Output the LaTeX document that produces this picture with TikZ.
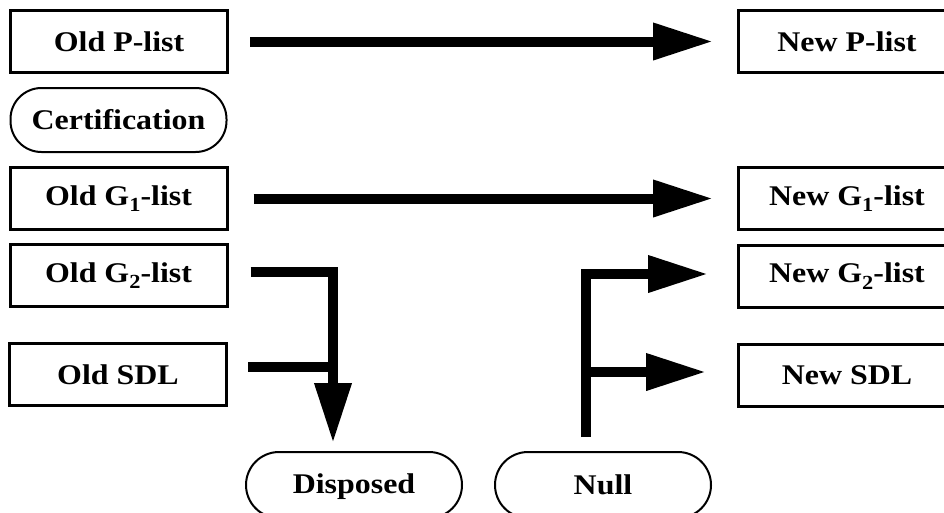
\documentclass[tikz,border=0pt]{standalone}
\usepackage{fontspec}
\setmainfont{Liberation Serif}[FakeStretch=1.12]
\usetikzlibrary{arrows.meta}
\newcommand{\lsub}[1]{\raisebox{-0.22em}{\fontsize{20}{20}\selectfont #1}}
\begin{document}
\begin{tikzpicture}[x=1pt,y=-1pt,
  lbl/.style={font=\fontsize{28.5}{31}\selectfont\bfseries, text=black},
  box/.style={lbl, draw, line width=3pt, minimum width=217pt, minimum height=62pt, inner sep=0pt},
  stad/.style={lbl, draw, line width=2pt, rounded corners=31pt, minimum width=216pt, minimum height=64pt, inner sep=0pt},
  flow/.style={line width=10pt, -{Triangle[length=60pt,width=35pt]}},
  bar/.style={line width=10pt}]
\useasboundingbox (0,0) rectangle (944,512);
\clip (0,0) rectangle (944,512);
% left column
\node[box] (oldP) at (119,41.5) {Old P-list};
\node[stad] (cert) at (118.5,120) {Certification};
\node[box] (oldG1) at (118.5,198.5) {Old G\lsub{1}-list};
\node[box] (oldG2) at (118.5,275.5) {Old G\lsub{2}-list};
\node[box] (oldSDL) at (118,374.5) {Old SDL};
% right column
\node[box] (newP) at (847,41.5) {New P-list};
\node[box] (newG1) at (847,198.5) {New G\lsub{1}-list};
\node[box] (newG2) at (847,276) {New G\lsub{2}-list};
\node[box] (newSDL) at (847,375.5) {New SDL};
% bottom
\node[stad, minimum height=66pt, rounded corners=33pt, text depth=2pt] (disp) at (354,485) {Disposed};
\node[stad, minimum height=66pt, rounded corners=33pt] (null) at (603,485) {Null};
% connectors
\draw[flow, shorten <=21pt, shorten >=24pt] (oldP.east) -- (newP.west);
\draw[flow, shorten <=25pt, shorten >=24pt] (oldG1.east) -- (oldG1.east -| newG1.west);
\coordinate (dtip) at ([xshift=-21pt,yshift=8pt]disp.north);
\draw[flow] ([xshift=22pt,yshift=4pt]oldG2.east) -| (dtip);
\coordinate (sdlj) at ([yshift=8pt]oldSDL.east -| dtip);
\draw[bar] ([xshift=20pt,yshift=8pt]oldSDL.east) -- (sdlj);
\coordinate (nbase) at ([xshift=-17.5pt,yshift=14pt]null.north);
\coordinate (g2tip) at ([xshift=-29pt,yshift=2pt]newG2.west);
\coordinate (sdltip) at ([xshift=-31pt,yshift=3.5pt]newSDL.west);
\draw[flow] (nbase) |- (g2tip);
\draw[flow] (nbase |- sdltip) -- (sdltip);
\end{tikzpicture}
\end{document}
